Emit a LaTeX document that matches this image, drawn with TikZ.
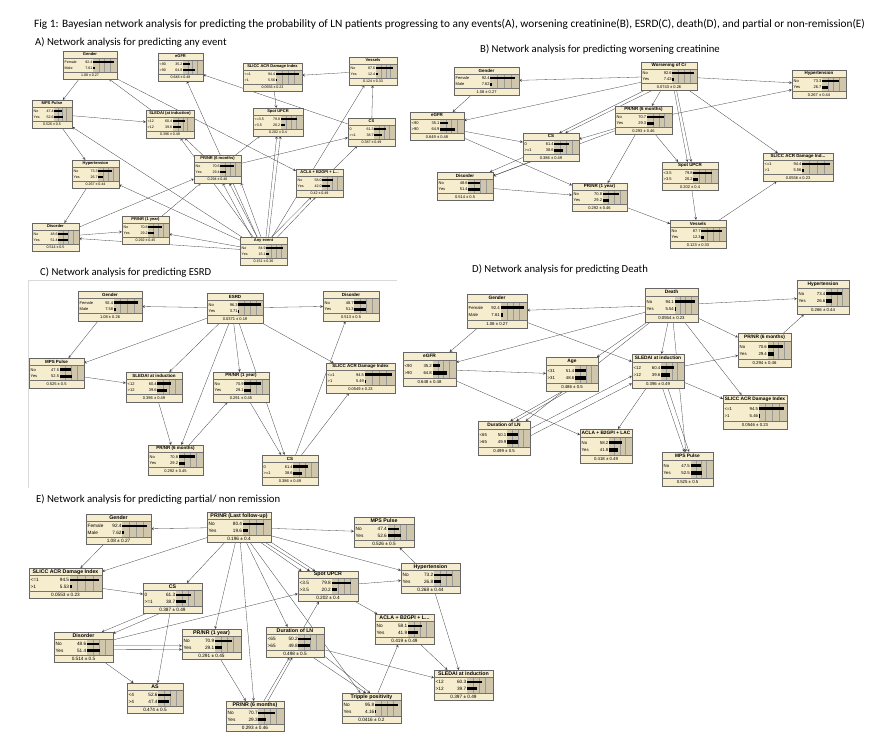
\documentclass[tikz,border=0pt]{standalone}
\usepackage{fontspec}
\setmainfont{Liberation Sans}
\newfontfamily\capfont{Carlito}
\usepackage{tikz}
\usetikzlibrary{backgrounds}

\definecolor{bnfill}{RGB}{246,237,206}
\definecolor{bnshade}{RGB}{207,198,172}

% size of the belief boxes, set again for every panel
\newcommand\bnh{28}
\newcommand\bnfs{4}
\newcommand\bnfont{\fontsize{\bnfs}{\bnfs}\selectfont}
\newlength\bnlen

% #1 name, #2 top left, #3 width, #4 title, #5/#6 first state, #7/#8 second state, #9 mean
\newcommand\bnode[9]{%
  \node[bnbox, minimum width=#3, minimum height=\bnh, anchor=north west] (#1) at (#2) {};
  \begin{scope}[shift={(#1.north west)}, every node/.style={inner sep=0pt}, font=\bnfont]
    \settowidth\bnlen{\bnfont #5\hspace{2pt}#6}\pgfmathsetmacro\bnQa{\bnlen}
    \settowidth\bnlen{\bnfont #7\hspace{2pt}#8}\pgfmathsetmacro\bnQb{\bnlen}
    \pgfmathsetmacro\bnTf{1.12*\bnfs}
    \pgfmathsetmacro\bnT{0.24*\bnh}
    \pgfmathsetmacro\bnM{0.75*\bnh}
    \pgfmathsetmacro\bnX{max(0.56*#3,max(\bnQa,\bnQb)+3)}
    \pgfmathsetmacro\bnW{#3-\bnX-1.5}
    \pgfmathsetmacro\bnR{0.045*\bnh}
    \pgfmathsetmacro\bnA{\bnT+0.3*(\bnM-\bnT)}
    \pgfmathsetmacro\bnB{\bnT+0.72*(\bnM-\bnT)}
    \fill[bnshade] (\bnX,\bnT) rectangle (#3,\bnM);
    \foreach \k in {0.25,0.5,0.75}
      \draw[bngrid] (\bnX+\k*\bnW,\bnT) -- (\bnX+\k*\bnW,\bnM);
    \draw[bnline] (0,\bnT) -- (#3,\bnT) (0,\bnM) -- (#3,\bnM);
    \node[font=\fontsize{\bnTf}{\bnTf}\selectfont\bfseries] (#1-t) at (#3/2,\bnT/2) {#4};
    \node[anchor=west] (#1-a) at (1.5,\bnA) {#5};
    \node[anchor=east] (#1-av) at (\bnX-0.6,\bnA) {#6};
    \fill (\bnX,\bnA-\bnR) rectangle ++(#6*\bnW/100,2*\bnR);
    \node[anchor=west] (#1-b) at (1.5,\bnB) {#7};
    \node[anchor=east] (#1-bv) at (\bnX-0.6,\bnB) {#8};
    \fill (\bnX,\bnB-\bnR) rectangle ++(#8*\bnW/100,2*\bnR);
    \node (#1-m) at (#3/2,{(\bnM+\bnh)/2}) {#9};
  \end{scope}}

\begin{document}
\begin{tikzpicture}[
    x=1pt, y=-1pt,
    bnbox/.style={draw=black!60, line width=0.5pt, fill=bnfill, inner sep=0pt, outer sep=0pt},
    bnline/.style={black!55, line width=0.4pt},
    bngrid/.style={black!40, line width=0.3pt},
    link/.style={->, >=stealth, line width=0.3pt, black!75},
    heading/.style={anchor=west, inner sep=0pt, font=\capfont\fontsize{10.7}{12}\selectfont}
  ]
  \useasboundingbox (0,0) rectangle (875,739);

  % Titles.
  \node[heading, font=\capfont\fontsize{11.3}{12}\selectfont] (fig) at (34,24) {Fig 1: Bayesian network analysis for predicting the probability of LN patients progressing to any events(A), worsening creatinine(B), ESRD(C), death(D), and partial or non-remission(E)};
  \node[heading] (headA) at (35,43) {A) Network analysis for predicting any event};
  \node[heading] (headB) at (480,50) {B) Network analysis for predicting worsening creatinine};
  \node[heading] (headC) at (40,273) {C) Network analysis for predicting ESRD};
  \node[heading] (headD) at (472,270) {D) Network analysis for predicting Death};
  \node[heading] (headE) at (36,499) {E) Network analysis for predicting partial/ non remission};

  % A) any event
  \renewcommand\bnh{28}\renewcommand\bnfs{3.6}
  \bnode{gA}{63,51}{54}{Gender}{Female}{92.4}{Male}{7.61}{1.08 ± 0.27}
  \bnode{eA}{158,53}{45}{eGFR}{<90}{35.2}{>90}{64.8}{0.648 ± 0.48}
  \bnode{slA}{243,63}{59}{SLICC ACR Damage Index}{<=1}{94.4}{>1}{5.56}{0.0556 ± 0.23}
  \bnode{vA}{349,57}{48}{Vessels}{No}{87.6}{Yes}{12.4}{0.124 ± 0.33}
  \bnode{mA}{32,100}{40}{MPS Pulse}{No}{47.4}{Yes}{52.6}{0.526 ± 0.5}
  \bnode{sdA}{146,110}{48}{SLEDAI (at induction)}{<12}{60.4}{>12}{39.6}{0.396 ± 0.49}
  \bnode{spA}{253,108}{50}{Spot UPCR}{<=3.5}{79.8}{>3.5}{20.2}{0.202 ± 0.4}
  \bnode{csA}{348,118}{47}{CS}{0}{61.3}{>=1}{38.7}{0.387 ± 0.49}
  \bnode{hA}{72,160}{47}{Hypertension}{No}{73.3}{Yes}{26.7}{0.267 ± 0.44}
  \bnode{p6A}{194,155}{47}{PR/NR (6 months)}{No}{70.6}{Yes}{29.4}{0.294 ± 0.46}
  \bnode{acA}{296,169}{47}{ACLA + B2GPI + L...}{No}{58.0}{Yes}{42.0}{0.42 ± 0.49}
  \bnode{dA}{32,223}{47}{Disorder}{No}{48.6}{Yes}{51.4}{0.514 ± 0.5}
  \bnode{p1A}{122,216}{47}{PR/NR (1 year)}{No}{70.8}{Yes}{29.2}{0.292 ± 0.45}
  \bnode{anyA}{240,237}{47}{Any event}{No}{84.9}{Yes}{15.1}{0.151 ± 0.36}
  \begin{pgfonlayer}{background}
    \draw[link] (gA) -- (mA);
    \draw[link] (mA) -- (hA);
    \draw[link] (mA) -- (sdA);
    \draw[link] (sdA) -- (gA);
    \draw[link] (gA) -- (acA);
    \draw[link] (anyA) -- (eA);
    \draw[link] (csA) -- (eA);
    \draw[link] (vA) -- (slA);
    \draw[link] (slA) -- (spA);
    \draw[link] (csA) -- (vA);
    \draw[link] (anyA) -- (vA);
    \draw[link] (anyA.80) -- (spA.-95);
    \draw[link] (anyA.70) -- (spA.-80);
    \draw[link] (p6A) -- (spA);
    \draw[link] (acA) -- (csA);
    \draw[link] (p6A) -- (csA);
    \draw[link] (hA) -- (dA);
    \draw[link] (dA) -- (p1A);
    \draw[link] (dA) -- (p6A);
    \draw[link] (p1A) -- (p6A);
    \draw[link] (anyA) -- (p1A);
    \draw[link] (anyA) -- (dA);
    \draw[link] (anyA) -- (hA);
    \draw[link] (anyA) -- (mA);
    \draw[link] (anyA) -- (sdA);
    \draw[link] (p6A) -- (sdA);
    \draw[link] (anyA.130) -- (p6A.-70);
    \draw[link] (anyA.115) -- (p6A.-50);
    \draw[link] (anyA.100) -- (p6A.-30);
    \draw[link] (anyA.60) -- (acA.-120);
    \draw[link] (anyA.45) -- (acA.-105);
  \end{pgfonlayer}

  % B) worsening creatinine
  \renewcommand\bnh{28.5}\renewcommand\bnfs{4}
  \bnode{gB}{454,67}{65}{Gender}{Female}{92.4}{Male}{7.62}{1.08 ± 0.27}
  \bnode{wB}{641,62}{56}{Worsening of Cr}{No}{92.6}{Yes}{7.43}{0.0743 ± 0.26}
  \bnode{hB}{792,70}{54}{Hypertension}{No}{73.3}{Yes}{26.7}{0.267 ± 0.44}
  \bnode{eB}{410,112}{54}{eGFR}{<90}{35.1}{>90}{64.9}{0.649 ± 0.48}
  \bnode{p6B}{615,106}{57}{PR/NR (6 months)}{No}{70.7}{Yes}{29.3}{0.293 ± 0.46}
  \bnode{csB}{523,133}{56}{CS}{0}{61.4}{>=1}{38.6}{0.386 ± 0.49}
  \bnode{dB}{437,172}{56}{Disorder}{No}{48.6}{Yes}{51.4}{0.514 ± 0.5}
  \bnode{p1B}{572,183}{55}{PR/NR (1 year)}{No}{70.8}{Yes}{29.2}{0.292 ± 0.46}
  \bnode{spB}{662,162}{56}{Spot UPCR}{<3.5}{79.8}{>3.5}{20.2}{0.202 ± 0.4}
  \bnode{slB}{763,153}{70}{SLICC ACR Damage Ind...}{<=1}{94.4}{>1}{5.56}{0.0556 ± 0.23}
  \bnode{vB}{670,220}{56}{Vessels}{No}{87.7}{Yes}{12.3}{0.123 ± 0.33}
  \begin{pgfonlayer}{background}
    \draw[link] (wB) -- (gB);
    \draw[link] (wB) -- (hB);
    \draw[link] (gB) -- (eB);
    \draw[link] (wB) -- (eB);
    \draw[link] (wB) -- (p6B);
    \draw[link] (wB.-150) -- (csB.60);
    \draw[link] (wB.-140) -- (csB.45);
    \draw[link] (wB.-70) -- (spB.100);
    \draw[link] (wB.-62) -- (spB.85);
    \draw[link] (wB) -- (slB);
    \draw[link] (p6B) -- (hB);
    \draw[link] (eB) -- (csB);
    \draw[link] (eB) -- (p1B);
    \draw[link] (csB.-160) -- (dB.30);
    \draw[link] (csB.-145) -- (dB.20);
    \draw[link] (p6B) -- (dB);
    \draw[link] (p6B) -- (csB);
    \draw[link] (p6B) -- (p1B);
    \draw[link] (p6B) -- (spB);
    \draw[link] (dB) -- (p1B);
    \draw[link] (p1B) -- (vB);
    \draw[link] (spB) -- (vB);
    \draw[link] (vB) -- (slB);
  \end{pgfonlayer}

  % C) ESRD
  \draw[black!15, line width=0.4pt] (28,488) -- (28,280) -- (397,280);
  \renewcommand\bnh{30}\renewcommand\bnfs{4}
  \bnode{gC}{78,291}{64}{Gender}{Female}{92.4}{Male}{7.58}{1.08 ± 0.26}
  \bnode{esC}{207,293}{56}{ESRD}{No}{96.3}{Yes}{3.71}{0.0371 ± 0.19}
  \bnode{dC}{323,291}{56}{Disorder}{No}{48.7}{Yes}{51.3}{0.513 ± 0.5}
  \bnode{mC}{29,358}{55}{MPS Pulse}{No}{47.5}{Yes}{52.5}{0.525 ± 0.5}
  \bnode{sdC}{126,372}{56}{SLEDAI at induction}{<12}{60.4}{>12}{39.6}{0.396 ± 0.49}
  \bnode{p1C}{213,372}{56}{PR/NR (1 year)}{No}{70.9}{Yes}{29.1}{0.291 ± 0.45}
  \bnode{slC}{326,363}{69}{SLICC ACR Damage Index}{<=1}{94.5}{>1}{5.49}{0.0549 ± 0.23}
  \bnode{p6C}{148,445}{55}{PR/NR (6 months)}{No}{70.8}{Yes}{29.2}{0.292 ± 0.45}
  \bnode{csC}{262,455}{56}{CS}{0}{61.4}{>=1}{38.6}{0.386 ± 0.49}
  \begin{pgfonlayer}{background}
    \draw[link] (esC) -- (gC);
    \draw[link] (esC) -- (dC);
    \draw[link] (gC) -- (mC);
    \draw[link] (esC) -- (mC);
    \draw[link] (esC) -- (slC);
    \draw[link] (csC) -- (dC);
    \draw[link] (csC) -- (slC);
    \draw[link] (mC) -- (sdC);
    \draw[link] (esC) -- (sdC);
    \draw[link] (esC.-95) -- (p1C.95);
    \draw[link] (esC) -- (p6C);
    \draw[link] (esC.-75) -- (csC.110);
    \draw[link] (sdC) -- (p6C);
    \draw[link] (p6C) -- (p1C);
    \draw[link] (p1C) -- (csC);
  \end{pgfonlayer}

  % D) death
  \renewcommand\bnh{34.5}\renewcommand\bnfs{4.3}
  \bnode{gD}{467,294}{60}{Gender}{Female}{92.4}{Male}{7.61}{1.08 ± 0.27}
  \bnode{deD}{645,288}{53}{Death}{No}{94.1}{Yes}{5.54}{0.0554 ± 0.23}
  \bnode{hD}{797,280}{52}{Hypertension}{No}{73.4}{Yes}{26.6}{0.266 ± 0.44}
  \bnode{p6D}{738,333}{53}{PR/NR (6 months)}{No}{70.6}{Yes}{29.4}{0.294 ± 0.46}
  \bnode{eD}{403,352}{53}{eGFR}{<90}{35.2}{>90}{64.8}{0.648 ± 0.48}
  \bnode{agD}{546,357}{52}{Age}{<31}{51.4}{>31}{48.6}{0.486 ± 0.5}
  \bnode{sdD}{632,354}{52}{SLEDAI at induction}{<12}{60.4}{>12}{39.6}{0.396 ± 0.49}
  \bnode{slD}{723,395}{64}{SLICC ACR Damage Index}{<=1}{94.5}{>1}{5.46}{0.0546 ± 0.23}
  \bnode{duD}{478,421}{52}{Duration of LN}{<65}{50.1}{>65}{49.9}{0.499 ± 0.5}
  \bnode{acD}{580,429}{52}{ACLA + B2GPI + LAC}{No}{58.2}{Yes}{41.8}{0.418 ± 0.49}
  \bnode{mD}{662,452}{51}{MPS Pulse}{No}{47.5}{Yes}{52.5}{0.525 ± 0.5}
  \begin{pgfonlayer}{background}
    \draw[link] (deD) -- (gD);
    \draw[link] (deD) -- (hD);
    \draw[link] (deD) -- (eD);
    \draw[link] (gD) -- (eD);
    \draw[link] (gD) -- (sdD);
    \draw[link] (deD) -- (p6D);
    \draw[link] (p6D) -- (hD);
    \draw[link] (deD) -- (agD);
    \draw[link] (deD) -- (duD);
    \draw[link] (deD) -- (sdD);
    \draw[link] (deD) -- (slD);
    \draw[link] (deD) -- (mD);
    \draw[link] (eD) -- (agD);
    \draw[link] (eD) -- (acD);
    \draw[link] (agD.-120) -- (duD.70);
    \draw[link] (agD.-105) -- (duD.55);
    \draw[link] (duD.20) -- (sdD.-170);
    \draw[link] (duD.5) -- (sdD.-155);
    \draw[link] (sdD) -- (acD);
    \draw[link] (sdD.-75) -- (mD.100);
    \draw[link] (sdD.-60) -- (mD.85);
    \draw[link] (sdD) -- (slD);
    \draw[link] (sdD) -- (p6D);
  \end{pgfonlayer}

  % E) partial / non remission
  \renewcommand\bnh{30.5}\renewcommand\bnfs{4.7}
  \bnode{gE}{86,514}{65}{Gender}{Female}{92.4}{Male}{7.62}{1.08 ± 0.27}
  \bnode{lfE}{207,512}{64}{PR/NR (Last follow-up)}{No}{80.4}{Yes}{19.6}{0.196 ± 0.4}
  \bnode{mE}{354,517}{60}{MPS Pulse}{No}{47.4}{Yes}{52.6}{0.526 ± 0.5}
  \bnode{slE}{29,568}{73}{SLICC ACR Damage Index}{<=1}{94.5}{>1}{5.53}{0.0553 ± 0.23}
  \bnode{csE}{143,583}{59}{CS}{0}{61.3}{>=1}{38.7}{0.387 ± 0.49}
  \bnode{spE}{298,571}{60}{Spot UPCR}{<3.5}{79.8}{>3.5}{20.2}{0.202 ± 0.4}
  \bnode{hE}{401,563}{59}{Hypertension}{No}{73.2}{Yes}{26.8}{0.268 ± 0.44}
  \bnode{dE}{54,632}{59}{Disorder}{No}{48.6}{Yes}{51.4}{0.514 ± 0.5}
  \bnode{p1E}{182,629}{59}{PR/NR (1 year)}{No}{70.9}{Yes}{29.1}{0.291 ± 0.45}
  \bnode{duE}{266,627}{58}{Duration of LN}{<65}{50.2}{>65}{49.8}{0.498 ± 0.5}
  \bnode{acE}{375,614}{59}{ACLA + B2GPI + L...}{No}{58.1}{Yes}{41.9}{0.419 ± 0.49}
  \bnode{asE}{127,683}{56}{AS}{<4}{52.6}{>4}{47.4}{0.474 ± 0.5}
  \bnode{p6E}{226,701}{58}{PR/NR (6 months)}{No}{70.7}{Yes}{29.3}{0.293 ± 0.46}
  \bnode{trE}{342,693}{59}{Tripple positivity}{No}{95.8}{Yes}{4.16}{0.0416 ± 0.2}
  \bnode{sdE}{434,670}{59}{SLEDAI at induction}{<12}{60.3}{>12}{39.7}{0.397 ± 0.49}
  \begin{pgfonlayer}{background}
    \draw[link] (lfE) -- (gE);
    \draw[link] (lfE) -- (mE);
    \draw[link] (gE) -- (slE);
    \draw[link] (lfE) -- (slE);
    \draw[link] (lfE) -- (csE);
    \draw[link] (lfE.-35) -- (spE.150);
    \draw[link] (lfE.-30) -- (spE.140);
    \draw[link] (lfE.-25) -- (spE.130);
    \draw[link] (lfE) -- (hE);
    \draw[link] (lfE) -- (p1E);
    \draw[link] (lfE) -- (p6E);
    \draw[link] (lfE) -- (duE);
    \draw[link] (lfE) -- (trE);
    \draw[link] (hE) -- (mE);
    \draw[link] (hE) -- (sdE);
    \draw[link] (spE) -- (hE);
    \draw[link] (slE) -- (csE);
    \draw[link] (csE.-150) -- (dE.40);
    \draw[link] (csE.-130) -- (dE.25);
    \draw[link] (csE) -- (asE);
    \draw[link] (dE) -- (asE);
    \draw[link] (dE.3) -- (p1E.-177);
    \draw[link] (dE.-4) -- (p1E.-170);
    \draw[link] (dE) -- (spE);
    \draw[link] (p1E) -- (p6E);
    \draw[link] (p6E.60) -- (duE.-110);
    \draw[link] (p6E.50) -- (duE.-100);
    \draw[link] (duE) -- (spE);
    \draw[link] (duE.-40) -- (trE.110);
    \draw[link] (duE.-25) -- (trE.95);
    \draw[link] (duE) -- (sdE);
    \draw[link] (trE) -- (acE);
    \draw[link] (acE) -- (sdE);
    \draw[link] (spE) -- (acE);
  \end{pgfonlayer}
\end{tikzpicture}
\end{document}
